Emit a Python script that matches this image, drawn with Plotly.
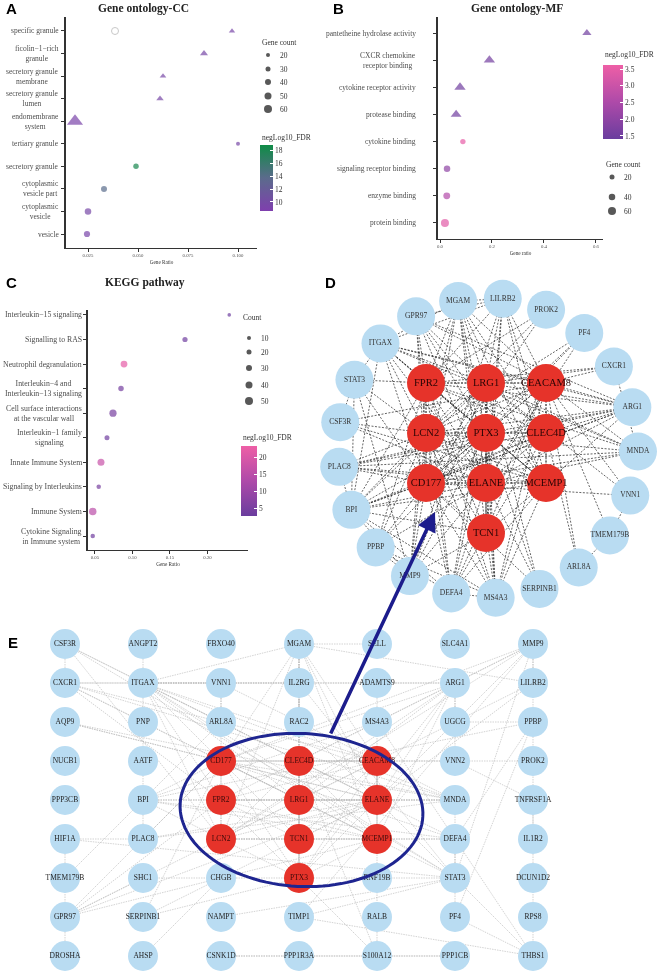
import numpy as np
import plotly.graph_objects as go

W, H = 660, 974
SERIF = "Liberation Serif, Times New Roman, serif"
SANS = "Liberation Sans, Arial, sans-serif"
LABEL_C = "#4d4d4d"

# ---------------- Panel A : Gene ontology-CC ----------------
cc_terms = ["specific granule", "ficolin−1−rich<br>granule", "secretory granule<br>membrane",
            "secretory granule<br>lumen", "endomembrane<br>system", "tertiary granule",
            "secretory granule", "cytoplasmic<br>vesicle part", "cytoplasmic<br>vesicle", "vesicle"]
cc_ratio = [0.097, 0.083, 0.0625, 0.061, 0.0185, 0.100, 0.049, 0.033, 0.025, 0.0245]
cc_count = [36, 50, 38, 45, 120, 20, 35, 40, 45, 42]
cc_fdr = [9.5, 9.8, 9.6, 9.6, 9.2, 9.8, 18.2, 13.8, 9.6, 9.4]
cc_symbol = ["triangle-up"] * 5 + ["circle"] * 5
cc_open_term = ["specific granule"]
cc_open_ratio = [0.0385]
cc_size_legend = [20, 30, 40, 50, 60]
cc_ticks = [0.025, 0.050, 0.075, 0.100]
cc_ticktext = ["0.025", "0.050", "0.075", "0.100"]
cc_cbar_ticks = [10, 12, 14, 16, 18]
cc_cbar_text = ["10", "12", "14", "16", "18"]

# ---------------- Panel B : Gene ontology-MF ----------------
mf_terms = ["pantetheine hydrolase activity", "CXCR chemokine<br>receptor binding",
            "cytokine receptor activity", "protease binding", "cytokine binding",
            "signaling receptor binding", "enzyme binding", "protein binding"]
mf_ratio = [0.565, 0.19, 0.077, 0.062, 0.088, 0.027, 0.026, 0.019]
mf_count = [60, 85, 85, 80, 25, 40, 45, 60]
mf_fdr = [1.5, 1.55, 1.5, 1.5, 3.5, 2.0, 2.6, 3.4]
mf_symbol = ["triangle-up"] * 4 + ["circle"] * 4
mf_size_legend = [20, 40, 60]
mf_ticks = [0.0, 0.2, 0.4, 0.6]
mf_ticktext = ["0.0", "0.2", "0.4", "0.6"]
mf_cbar_ticks = [1.5, 2.0, 2.5, 3.0, 3.5]
mf_cbar_text = ["1.5", "2.0", "2.5", "3.0", "3.5"]

# ---------------- Panel C : KEGG pathway ----------------
kegg_terms = ["Interleukin−15 signaling", "Signalling to RAS", "Neutrophil degranulation",
              "Interleukin−4 and<br>Interleukin−13 signaling",
              "Cell surface interactions<br>at the vascular wall",
              "Interleukin−1 family<br>signaling", "Innate Immune System",
              "Signaling by Interleukins", "Immune System",
              "Cytokine Signaling<br>in Immune system"]
kegg_ratio = [0.229, 0.170, 0.0887, 0.0847, 0.074, 0.066, 0.058, 0.055, 0.047, 0.047]
kegg_count = [6, 22, 38, 25, 42, 20, 40, 15, 45, 15]
kegg_fdr = [3.5, 4.0, 22.0, 4.5, 5.0, 4.0, 17.0, 5.0, 15.0, 4.0]
kegg_size_legend = [10, 20, 30, 40, 50]
kegg_ticks = [0.05, 0.10, 0.15, 0.20]
kegg_ticktext = ["0.05", "0.10", "0.15", "0.20"]
kegg_cbar_ticks = [5, 10, 15, 20]
kegg_cbar_text = ["5", "10", "15", "20"]

# ---------------- Panel D : hub network ----------------
d_outer = ["MGAM", "LILRB2", "PROK2", "PF4", "CXCR1", "ARG1", "MNDA", "VNN1", "TMEM179B",
           "ARL8A", "SERPINB1", "MS4A3", "DEFA4", "MMP9", "PPBP", "BPI", "PLAC8", "CSF3R",
           "STAT3", "ITGAX", "GPR97"]
d_hub_grid = [["FPR2", "LRG1", "CEACAM8"],
              ["LCN2", "PTX3", "CLEC4D"],
              ["CD177", "ELANE", "MCEMP1"],
              [None, "TCN1", None]]
d_adj = {
    "MGAM": "LILRB2 FPR2 LRG1 CEACAM8 LCN2 PTX3 CLEC4D CD177 ELANE MCEMP1 TCN1 ITGAX",
    "LILRB2": "FPR2 LRG1 CEACAM8 CLEC4D ELANE MCEMP1 TCN1 GPR97 MMP9 ITGAX",
    "GPR97": "FPR2 LRG1 CEACAM8 LCN2 CD177 ELANE MCEMP1 ARG1 PTX3",
    "PROK2": "CD177 LCN2 FPR2",
    "ITGAX": "FPR2 LRG1 CEACAM8 LCN2 CD177 ELANE MCEMP1 ARG1 MNDA STAT3 BPI PTX3",
    "PF4": "CD177 ELANE LCN2 PPBP",
    "STAT3": "FPR2 LCN2 CD177 MMP9 CSF3R BPI",
    "CXCR1": "CEACAM8 LRG1 FPR2 MNDA",
    "CSF3R": "ELANE MCEMP1 LCN2 CEACAM8",
    "ARG1": "FPR2 LRG1 CEACAM8 LCN2 PTX3 CLEC4D CD177 ELANE MCEMP1 BPI PLAC8",
    "MNDA": "FPR2 LRG1 CEACAM8 CD177 ELANE LCN2 PLAC8",
    "PLAC8": "CD177 ELANE MCEMP1 LCN2 PTX3 CLEC4D BPI",
    "VNN1": "LRG1 CEACAM8 TMEM179B CD177",
    "BPI": "FPR2 LRG1 LCN2 PTX3 CLEC4D CD177 ELANE MCEMP1 TCN1 DEFA4 MS4A3 MMP9",
    "TMEM179B": "ARL8A CEACAM8",
    "PPBP": "FPR2 LCN2 CD177 ELANE DEFA4 MMP9 MS4A3",
    "ARL8A": "CLEC4D CEACAM8",
    "MMP9": "LCN2 CD177 ELANE PTX3 FPR2 LRG1 TCN1",
    "SERPINB1": "ELANE LRG1 PTX3 CD177",
    "DEFA4": "MS4A3 FPR2 LRG1 CEACAM8 ELANE CD177 LCN2 PTX3 TCN1 MCEMP1",
    "MS4A3": "FPR2 LRG1 CEACAM8 CLEC4D ELANE PTX3 CD177 LCN2 TCN1 MCEMP1",
    "FPR2": "LRG1 CEACAM8 LCN2 PTX3 CLEC4D CD177 ELANE MCEMP1 TCN1",
    "LRG1": "CEACAM8 LCN2 PTX3 CLEC4D CD177 ELANE MCEMP1 TCN1",
    "CEACAM8": "LCN2 PTX3 CLEC4D CD177 ELANE MCEMP1 TCN1",
    "LCN2": "PTX3 CLEC4D CD177 ELANE MCEMP1 TCN1",
    "PTX3": "CLEC4D CD177 ELANE MCEMP1 TCN1",
    "CLEC4D": "CD177 ELANE MCEMP1 TCN1",
    "CD177": "ELANE MCEMP1 TCN1",
    "ELANE": "MCEMP1 TCN1",
    "MCEMP1": "TCN1",
}

# ---------------- Panel E : full PPI network (grid layout) ----------------
e_grid = [
    ["CSF3R", "ANGPT2", "FBXO40", "MGAM", "SELL", "SLC4A1", "MMP9"],
    ["CXCR1", "ITGAX", "VNN1", "IL2RG", "ADAMTS9", "ARG1", "LILRB2"],
    ["AQP9", "PNP", "ARL8A", "RAC2", "MS4A3", "UGCG", "PPBP"],
    ["NUCB1", "AATF", "CD177", "CLEC4D", "CEACAM8", "VNN2", "PROK2"],
    ["PPP3CB", "BPI", "FPR2", "LRG1", "ELANE", "MNDA", "TNFRSF1A"],
    ["HIF1A", "PLAC8", "LCN2", "TCN1", "MCEMP1", "DEFA4", "IL1R2"],
    ["TMEM179B", "SHC1", "CHGB", "PTX3", "RNF19B", "STAT3", "DCUN1D2"],
    ["GPR97", "SERPINB1", "NAMPT", "TIMP1", "RALB", "PF4", "RPS8"],
    ["DROSHA", "AHSP", "CSNK1D", "PPP1R3A", "S100A12", "PPP1CB", "THBS1"],
]
hub_genes = ["CD177", "CLEC4D", "CEACAM8", "FPR2", "LRG1", "ELANE", "LCN2", "TCN1", "MCEMP1", "PTX3"]
e_adj = {
    "ITGAX": "CSF3R CXCR1 VNN1 ARG1 MGAM CD177 CLEC4D CEACAM8 FPR2 LRG1 ELANE LCN2 MCEMP1 MNDA STAT3 BPI ANGPT2 IL2RG",
    "MGAM": "CD177 CLEC4D CEACAM8 LRG1 ELANE LCN2 TCN1 MCEMP1 PTX3 LILRB2 SELL",
    "CSF3R": "CXCR1 LCN2 STAT3 ELANE",
    "CXCR1": "FPR2 LRG1 CEACAM8 MNDA STAT3 ARG1",
    "AQP9": "ELANE CD177 MNDA",
    "MMP9": "LILRB2 ARG1 CD177 CLEC4D ELANE LCN2 TIMP1 THBS1 STAT3",
    "ARG1": "VNN2 CD177 LCN2 ELANE MCEMP1 PTX3 CLEC4D LRG1 UGCG",
    "LILRB2": "CEACAM8 ELANE",
    "THBS1": "STAT3 DEFA4 PF4 TIMP1",
    "STAT3": "HIF1A SHC1 RAC2 IL2RG PF4 DEFA4 MNDA TIMP1 NAMPT",
    "HIF1A": "PLAC8 GPR97",
    "GPR97": "CD177 LCN2 FPR2 ELANE MCEMP1 SHC1 DROSHA",
    "CSNK1D": "PPP1R3A PPP1CB",
    "PPP1R3A": "PPP1CB",
    "S100A12": "CLEC4D CEACAM8 PTX3",
    "BPI": "PLAC8 LCN2 FPR2 CD177 ELANE MCEMP1 DEFA4 MS4A3 PPBP",
    "PLAC8": "CD177 ELANE MNDA",
    "DEFA4": "MS4A3 ELANE LCN2 CD177 MCEMP1 PPBP",
    "RAC2": "IL2RG",
    "SERPINB1": "ELANE PTX3 CD177",
    "TMEM179B": "ARL8A",
    "VNN1": "ARL8A MNDA CD177",
    "VNN2": "CLEC4D TNFRSF1A",
    "PROK2": "CD177",
    "PF4": "PPBP",
    "ADAMTS9": "ELANE",
    "MNDA": "FPR2 LRG1 ELANE CD177",
    "AHSP": "CHGB",
    "UGCG": "PPBP",
    "TNFRSF1A": "IL1R2",
    "FPR2": "LRG1 CEACAM8 LCN2 PTX3 CLEC4D CD177 ELANE MCEMP1 TCN1",
    "LRG1": "CEACAM8 LCN2 PTX3 CLEC4D CD177 ELANE MCEMP1 TCN1",
    "CEACAM8": "LCN2 PTX3 CLEC4D CD177 ELANE MCEMP1 TCN1",
    "LCN2": "PTX3 CLEC4D CD177 ELANE MCEMP1 TCN1",
    "PTX3": "CLEC4D CD177 ELANE MCEMP1 TCN1",
    "CLEC4D": "CD177 ELANE MCEMP1 TCN1",
    "CD177": "ELANE MCEMP1 TCN1",
    "ELANE": "MCEMP1 TCN1",
    "MCEMP1": "TCN1",
}

# ======================================================================
fig = go.Figure()

purple_green = [[0, "#7f3fae"], [0.5, "#5b6b8c"], [1, "#0f8c46"]]
purple_pink = [[0, "#6a3d9e"], [0.5, "#ae4aa9"], [1, "#ee5fa6"]]


def cbar(xpx, ytop, length, thick, ticks, ticktext):
    return dict(x=xpx / W, xanchor="left", y=1 - ytop / H, yanchor="top",
                len=length, lenmode="pixels", thickness=thick, thicknessmode="pixels",
                outlinewidth=0, xpad=0, ypad=0, tickvals=ticks, ticktext=ticktext,
                ticks="inside", ticklen=3, tickcolor="white", tickwidth=1,
                tickfont=dict(size=7.5, family=SERIF, color="#333"), title=dict(text=""))


def size_a(c):
    return [2 + 0.1 * v for v in c]


def size_b(c):
    return [3.5 + 0.075 * v for v in c]


def size_c(c):
    return [3 + 0.1 * v for v in c]


# Panel A traces
fig.add_trace(go.Scatter(
    x=cc_open_ratio, y=[cc_terms.index(t) for t in cc_open_term], mode="markers",
    xaxis="x", yaxis="y", hoverinfo="skip", showlegend=False,
    marker=dict(symbol="circle-open", size=7, color="#c8c8c8", line=dict(width=1))))
fig.add_trace(go.Scatter(
    x=cc_ratio, y=list(range(len(cc_terms))), mode="markers", xaxis="x", yaxis="y",
    hoverinfo="skip", showlegend=False,
    marker=dict(symbol=cc_symbol, size=size_a(cc_count), color=cc_fdr,
                colorscale=purple_green, cmin=8.6, cmax=18.8, showscale=True,
                colorbar=cbar(260, 145, 66, 13, cc_cbar_ticks, cc_cbar_text), line=dict(width=0))))

# Panel B traces
fig.add_trace(go.Scatter(
    x=mf_ratio, y=list(range(len(mf_terms))), mode="markers", xaxis="x2", yaxis="y2",
    hoverinfo="skip", showlegend=False,
    marker=dict(symbol=mf_symbol, size=size_b(mf_count), color=mf_fdr,
                colorscale=purple_pink, cmin=1.41, cmax=3.62, showscale=True,
                colorbar=cbar(603, 65, 74, 20, mf_cbar_ticks, mf_cbar_text), line=dict(width=0))))

# Panel C traces
fig.add_trace(go.Scatter(
    x=kegg_ratio, y=list(range(len(kegg_terms))), mode="markers", xaxis="x3", yaxis="y3",
    hoverinfo="skip", showlegend=False,
    marker=dict(symbol="circle", size=size_c(kegg_count), color=kegg_fdr,
                colorscale=purple_pink, cmin=2.9, cmax=23.2, showscale=True,
                colorbar=cbar(241, 446, 70, 16, kegg_cbar_ticks, kegg_cbar_text), line=dict(width=0))))

# ---------------- overlay (pixel) axis: legends, networks ----------------
annotations = []


def txt(x, y, s, size=7.5, color="#333", xanchor="left", family=SERIF, bold=False,
        align="left", ref=("x4", "y4")):
    if bold:
        s = "<b>" + s + "</b>"
    annotations.append(dict(x=x, y=y, xref=ref[0], yref=ref[1], text=s, showarrow=False,
                            xanchor=xanchor, yanchor="middle", align=align,
                            font=dict(size=size, color=color, family=family)))


def size_legend(title, vals, sizefn, x0, ytitle, ys):
    txt(x0 - 8, ytitle, title)
    fig.add_trace(go.Scatter(x=[x0] * len(vals), y=ys, mode="markers", xaxis="x4", yaxis="y4",
                             hoverinfo="skip", showlegend=False,
                             marker=dict(color="#111", size=sizefn(vals), line=dict(width=0))))
    for v, yy in zip(vals, ys):
        txt(x0 + 10, yy, str(v))


size_legend("Gene count", cc_size_legend, size_a, 268, 42, [55, 69, 82, 96, 109])
txt(260, 137, "negLog10_FDR")
size_legend("Gene count", mf_size_legend, size_b, 612, 164, [177, 197, 211])
txt(603, 54, "negLog10_FDR")
size_legend("Count", kegg_size_legend, size_c, 249, 317, [338, 352, 368, 385, 401])
txt(241, 437, "negLog10_FDR")

# ---- D network layout (ring of partner genes around a hub grid)
d_pos = {}
cx, cy, R = 488, 448, 150
step = 360.0 / len(d_outer)
for i, g in enumerate(d_outer):
    a = np.deg2rad(-11.5 + step * i)
    d_pos[g] = (cx + R * np.sin(a), cy - R * np.cos(a))
for r, row in enumerate(d_hub_grid):
    for c, g in enumerate(row):
        if g:
            d_pos[g] = (426 + 60 * c, 383 + 50 * r)

# ---- E network layout (grid)
e_pos = {}
for r, row in enumerate(e_grid):
    for c, g in enumerate(row):
        e_pos[g] = (65 + 78 * c, 644 + 39 * r)


def edge_xy(adj, pos):
    xs, ys = [], []
    for a, targets in adj.items():
        for b in targets.split():
            xs += [pos[a][0], pos[b][0], None]
            ys += [pos[a][1], pos[b][1], None]
    return xs, ys


ex, ey = edge_xy(e_adj, e_pos)
fig.add_trace(go.Scatter(x=ex, y=ey, mode="lines", xaxis="x4", yaxis="y4", hoverinfo="skip",
                         showlegend=False,
                         line=dict(color="#b5b5b5", width=0.6, dash="1.5px,1px")))
dx, dy = edge_xy(d_adj, d_pos)
fig.add_trace(go.Scatter(x=dx, y=dy, mode="lines", xaxis="x4", yaxis="y4", hoverinfo="skip",
                         showlegend=False,
                         line=dict(color="#222", width=0.7, dash="2px,1.5px")))

BLUE = "#b9dcf2"
RED = "#e6332a"


def nodes(pos, names, color, size, fsize, fcolor):
    fig.add_trace(go.Scatter(
        x=[pos[g][0] for g in names], y=[pos[g][1] for g in names], mode="markers+text",
        text=names, textposition="middle center", xaxis="x4", yaxis="y4",
        hoverinfo="skip", showlegend=False,
        textfont=dict(size=fsize, color=fcolor, family=SERIF),
        marker=dict(color=color, size=size, line=dict(width=0))))


e_all = [g for row in e_grid for g in row]
nodes(e_pos, [g for g in e_all if g not in hub_genes], BLUE, 30, 7.5, "#222")
nodes(e_pos, [g for g in e_all if g in hub_genes], RED, 30, 7.5, "#3a0a0a")
nodes(d_pos, d_outer, BLUE, 38, 7.5, "#333")
nodes(d_pos, [g for row in d_hub_grid for g in row if g], RED, 38, 10.5, "#2a0505")

# ---- blue ellipse around hub genes in E + arrow to D
t = np.linspace(0, 2 * np.pi, 121)
ecx, ecy, erx, ery, rot = 301.5, 810, 121.5, 76.5, np.deg2rad(3)
px_ = ecx + erx * np.cos(t) * np.cos(rot) - ery * np.sin(t) * np.sin(rot)
py_ = ecy + erx * np.cos(t) * np.sin(rot) + ery * np.sin(t) * np.cos(rot)
path = "M " + " L ".join(f"{a:.1f},{b:.1f}" for a, b in zip(px_, py_)) + " Z"
shapes = [dict(type="path", path=path, xref="x4", yref="y4",
               line=dict(color="#1e2590", width=3), fillcolor="rgba(0,0,0,0)")]

annotations.append(dict(x=435, y=512, ax=330, ay=735, xref="x4", yref="y4", axref="x4",
                        ayref="y4", text="", showarrow=True, arrowhead=2, arrowsize=1.1,
                        arrowwidth=3.5, arrowcolor="#1c1c8c"))

# ---- panel letters & titles
for s, x, y in [("A", 4, 8), ("B", 331, 8), ("C", 4, 282), ("D", 323, 282), ("E", 6, 642)]:
    txt(x, y, s, size=15, color="#000", family=SANS, bold=True)
for s, x, y in [("Gene ontology-CC", 143, 8), ("Gene ontology-MF", 517, 8), ("KEGG pathway", 145, 282)]:
    txt(x, y, s, size=11.5, color="#222", xanchor="center", bold=True)

# ---- category labels (centered multi-line, right anchored)
for i, term in enumerate(cc_terms):
    txt(61 / W, i, term, size=7.5, color=LABEL_C, xanchor="right", align="center", ref=("paper", "y"))
for i, term in enumerate(mf_terms):
    txt(418 / W, i, term, size=7.5, color=LABEL_C, xanchor="right", align="center", ref=("paper", "y2"))
for i, term in enumerate(kegg_terms):
    txt(84 / W, i, term, size=7.8, color=LABEL_C, xanchor="right", align="center", ref=("paper", "y3"))


def xax(dom, rng, tv, tt, title):
    return dict(domain=[dom[0] / W, dom[1] / W], range=rng, tickvals=tv, ticktext=tt,
                showline=True, linecolor="#333", linewidth=1.3, ticks="outside", ticklen=2.5,
                tickcolor="#333", tickfont=dict(size=4.8, family=SERIF, color=LABEL_C),
                showgrid=False, zeroline=False, fixedrange=True,
                title=dict(text=title, font=dict(size=5.2, family=SERIF, color="#333"), standoff=2))


def yax(dom, n, pad_top, pad_bot, anchor):
    return dict(domain=[1 - dom[1] / H, 1 - dom[0] / H], range=[n - 1 + pad_bot, -pad_top],
                tickvals=list(range(n)), showticklabels=False, showline=True, linecolor="#333",
                linewidth=1.5, ticks="outside", ticklen=3, tickcolor="#333",
                showgrid=False, zeroline=False, fixedrange=True, anchor=anchor)


layout = dict(
    width=W, height=H, margin=dict(l=0, r=0, t=0, b=0),
    paper_bgcolor="white", plot_bgcolor="rgba(0,0,0,0)", showlegend=False,
    font=dict(family=SERIF),
    xaxis=dict(xax((66, 257), [0.014, 0.1095], cc_ticks, cc_ticktext, "Gene Ratio"), anchor="y"),
    yaxis=yax((17, 248), len(cc_terms), 0.62, 0.62, "x"),
    xaxis2=dict(xax((438, 603), [-0.0077, 0.627], mf_ticks, mf_ticktext, "Gene ratio"), anchor="y2"),
    yaxis2=yax((17, 239), len(mf_terms), 0.59, 0.59, "x2"),
    xaxis3=dict(xax((88, 248), [0.0407, 0.254], kegg_ticks, kegg_ticktext, "Gene Ratio"), anchor="y3"),
    yaxis3=yax((310, 550), len(kegg_terms), 0.2, 0.57, "x3"),
    xaxis4=dict(domain=[0, 1], range=[0, W], visible=False, fixedrange=True, anchor="y4"),
    yaxis4=dict(domain=[0, 1], range=[H, 0], visible=False, fixedrange=True, anchor="x4"),
    annotations=annotations, shapes=shapes,
)
fig.update_layout(**layout)
fig.write_html(
    "out.html", config={"displayModeBar": False},
    post_script=("document.body.style.margin='0';document.body.style.overflow='hidden';"
                 "var gd=document.getElementById('{plot_id}');"
                 "gd.style.willChange='transform';gd.style.webkitFontSmoothing='antialiased';"))
